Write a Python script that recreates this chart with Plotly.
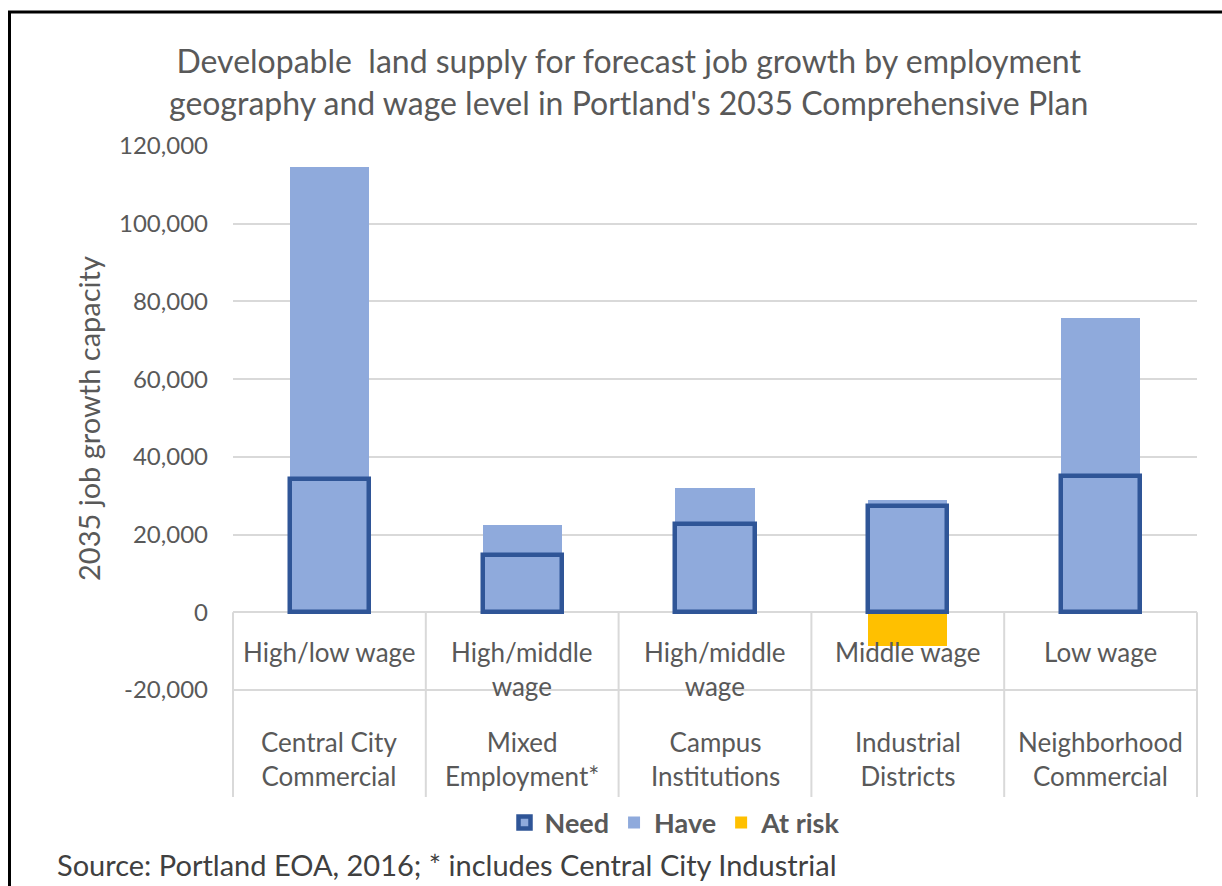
import plotly.graph_objects as go

# data
wage_levels = ["High/low wage", "High/middle<br>wage", "High/middle<br>wage", "Middle wage", "Low wage"]
geographies = ["Central City<br>Commercial", "Mixed<br>Employment*", "Campus<br>Institutions",
               "Industrial<br>Districts", "Neighborhood<br>Commercial"]
need = [34200, 14800, 22800, 27300, 35200]
have = [114600, 22500, 32000, 28800, 75800]
at_risk = [0, 0, 0, -8700, 0]
y_ticks = [-20000, 0, 20000, 40000, 60000, 80000, 100000, 120000]

W, H = 1222, 886
L, R, T, B = 233, 1197, 146, 690  # plot area in pixels
FONT = "Lato, 'Open Sans', sans-serif"
GRAY = "#595959"
GRID = "#D9D9D9"


def px_x(px):
    return (px - L) / (R - L)


def px_y(py):
    return (B - py) / (B - T)


n = len(geographies)
idx = list(range(n))

fig = go.Figure()
fig.add_trace(go.Bar(x=idx, y=have, name="Have", width=0.41,
                     marker=dict(color="#8FAADC", line=dict(width=0)), legendrank=2))
fig.add_trace(go.Bar(x=idx, y=at_risk, name="At risk", width=0.41,
                     marker=dict(color="#FFC000", line=dict(width=0)), legendrank=3))
fig.add_trace(go.Bar(x=idx, y=need, name="Need", width=0.41,
                     marker=dict(color="#8FAADC", line=dict(color="#2F5597", width=4.5)), legendrank=1))

ymin, ymax = y_ticks[0], y_ticks[-1]
zero_paper = (0 - ymin) / (ymax - ymin)

shapes = []
# bottom gridline / row separator
shapes.append(dict(type="line", xref="paper", yref="paper", x0=0, x1=1, y0=0, y1=0,
                   line=dict(color=GRID, width=2), layer="below"))
# vertical separators of the category table
for i in range(n + 1):
    shapes.append(dict(type="line", xref="paper", yref="paper", x0=i / n, x1=i / n,
                       y0=zero_paper, y1=px_y(797), line=dict(color=GRID, width=2)))
# frame (left and top)
shapes.append(dict(type="line", xref="paper", yref="paper", x0=px_x(9.5), x1=px_x(9.5),
                   y0=px_y(12), y1=px_y(890), line=dict(color="black", width=3)))
shapes.append(dict(type="line", xref="paper", yref="paper", x0=px_x(8), x1=px_x(1230),
                   y0=px_y(12), y1=px_y(12), line=dict(color="black", width=3)))

annotations = []
for i in idx:
    annotations.append(dict(x=i, xref="x", y=px_y(634), yref="paper", text=wage_levels[i],
                            showarrow=False, yanchor="top", align="center",
                            font=dict(family=FONT, size=26, color=GRAY)))
    annotations.append(dict(x=i, xref="x", y=px_y(759), yref="paper", text=geographies[i],
                            showarrow=False, yanchor="middle", align="center",
                            font=dict(family=FONT, size=26, color=GRAY)))
annotations.append(dict(x=px_x(88), xref="paper", y=px_y(419), yref="paper",
                        text="2035 job growth capacity", textangle=-90, showarrow=False,
                        xanchor="center", yanchor="middle",
                        font=dict(family=FONT, size=29, color=GRAY)))
annotations.append(dict(x=px_x(628), xref="paper", y=px_y(82), yref="paper",
                        text="Developable  land supply for forecast job growth by employment<br>"
                             "geography and wage level in Portland's 2035 Comprehensive Plan",
                        showarrow=False, align="center", xanchor="center", yanchor="middle",
                        font=dict(family=FONT, size=32, color=GRAY)))
annotations.append(dict(x=px_x(55), xref="paper", y=px_y(864), yref="paper",
                        xanchor="left", yanchor="middle",
                        text="Source: Portland EOA, 2016; * includes Central City Industrial",
                        showarrow=False, font=dict(family=FONT, size=29, color="#404040")))

fig.update_layout(
    width=W, height=H,
    margin=dict(l=L, r=W - R, t=T, b=H - B),
    plot_bgcolor="white", paper_bgcolor="white",
    barmode="overlay", bargap=0,
    showlegend=True,
    legend=dict(orientation="h", x=px_x(675), xanchor="center", y=px_y(823), yanchor="middle",
                traceorder="normal", font=dict(family=FONT, size=27, color=GRAY, weight="bold"),
                itemwidth=30),
    xaxis=dict(range=[-0.5, n - 0.5], showticklabels=False, showgrid=False, zeroline=False,
               fixedrange=True),
    yaxis=dict(range=[ymin, ymax], tickvals=y_ticks,
               ticktext=[f"{v:,}" for v in y_ticks],
               showgrid=True, gridcolor=GRID,
               gridwidth=2, zeroline=True, zerolinecolor=GRID, zerolinewidth=2,
               tickfont=dict(family=FONT, size=24, color=GRAY), ticklabelstandoff=24),
    shapes=shapes,
    annotations=annotations,
)

fig.write_html("out.html", config={"displayModeBar": False},
               post_script="document.body.style.margin='0';")
